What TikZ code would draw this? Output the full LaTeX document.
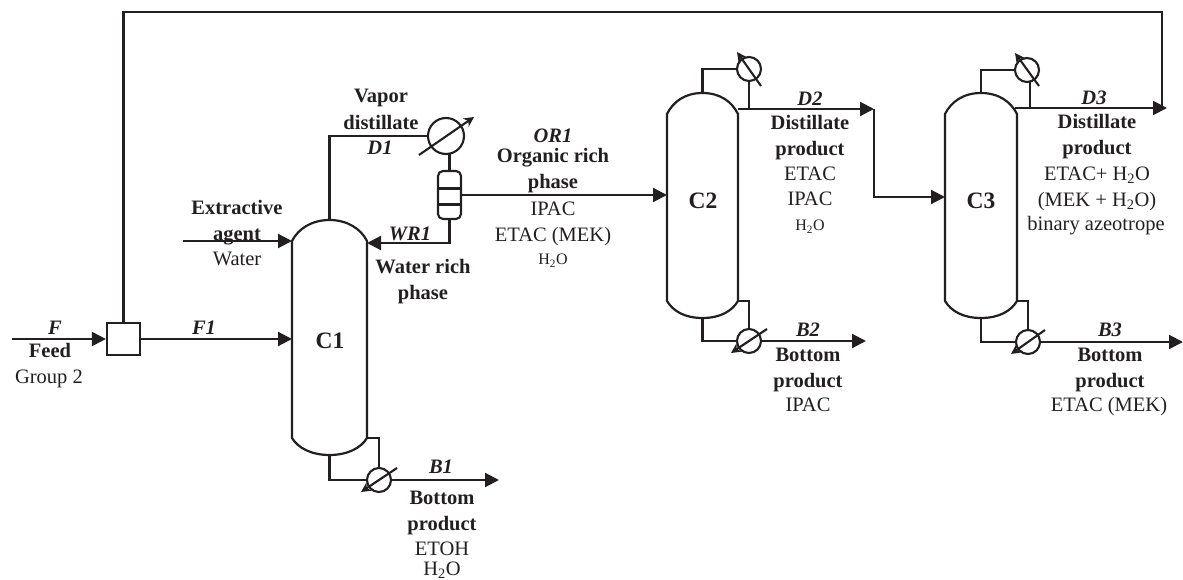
\documentclass[tikz,border=0pt]{standalone}
\usepackage{fontspec}
\setmainfont{Liberation Serif}
\usetikzlibrary{arrows.meta,calc}
\definecolor{ink}{HTML}{231F20}
\newcommand{\wat}{H\textsubscript{2}O}
\newcommand{\smwat}{{\fontsize{16}{16}\selectfont H\textsubscript{2}O}}
\tikzset{
  pipe/.style={draw=ink,line width=2.1pt,line join=miter},
  flow/.style={pipe,-{Triangle[length=14pt,width=14pt]}},
  tube/.style={draw=ink,line width=2.2pt,fill=white},
  hx/.style={circle,draw=ink,line width=2.1pt,fill=white,inner sep=0pt},
  hxarrow/.style={draw=ink,line width=2.1pt,-{Stealth[length=10pt,width=10pt]}},
  txt/.style={text=ink,font=\fontsize{20.5}{20.5}\selectfont,inner sep=0pt,anchor=base,yshift=-1.5pt},
  bold/.style={txt,font=\fontsize{20.5}{20.5}\selectfont\bfseries},
  ital/.style={txt,font=\fontsize{20.5}{20.5}\selectfont\bfseries\itshape},
  colname/.style={txt,font=\fontsize{23.5}{23.5}\selectfont\bfseries,anchor=center,yshift=0pt},
  mixbox/.style={draw=ink,line width=2.2pt,fill=white,minimum width=33pt,minimum height=32pt,inner sep=0pt}
}
\newcommand{\column}[5]{% name x1 x2 top bottom
  \coordinate (#1top) at ({(#2+#3)/2},#4);
  \coordinate (#1bot) at ({(#2+#3)/2},#5);
  \coordinate (#1ur) at (#3,#4+21);
  \coordinate (#1ul) at (#2,#4+21);
  \coordinate (#1lr) at (#3,#5-17);
  \coordinate (#1ll) at (#2,#5-17);
  \draw[tube] (#1ul) .. controls (#2+6,#4+9) and ({(#2+#3)/2-18},#4) .. (#1top)
    .. controls ({(#2+#3)/2+18},#4) and (#3-6,#4+9) .. (#1ur)
    -- (#1lr) .. controls (#3-6,#5-7) and ({(#2+#3)/2+18},#5) .. (#1bot)
    .. controls ({(#2+#3)/2-18},#5) and (#2+6,#5-7) .. (#1ll) -- cycle;
}
\begin{document}
\begin{tikzpicture}[x=1pt,y=-1pt]
\useasboundingbox (0,0) rectangle (1183,580);
% mixer
\node[mixbox] (mix) at (123.5,339) {};
\coordinate (fstart) at (12,339);
\draw[flow] (fstart) -- (mix.west);
% recycle
\coordinate (r2) at (1162,12);
\coordinate (d3tip) at (1167,108);
\draw[pipe] (mix.north) |- (r2) -- (1162,108);

% C1
\column{a}{292}{367}{220}{455}
\node[colname] (c1) at (330,339) {C1};
\draw[flow] (mix.east) -- (292,339);
\coordinate (ext) at (183,241);
\draw[flow] (ext) -- (292,241);
\node[hx,minimum size=36pt] (h1) at (446,136) {};
\draw[pipe] (atop) |- (h1.west);
\draw[hxarrow] (419,155) -- (474,117);
\node[draw=ink,line width=2.1pt,fill=white,rounded corners=5pt,minimum width=23pt,minimum height=48pt,inner sep=0pt] (dec) at (449.5,195) {};
\draw[pipe] (438,188.5) -- (461,188.5) (438,204.5) -- (461,204.5);
\draw[pipe] (449.5,154) -- (dec.north);
\draw[flow] (dec.south) |- (367,243);
% C2
\column{b}{667}{738}{93}{318}
\node[colname] (c2) at (703,199) {C2};
\draw[flow] (dec.east) -- (667,195);
\node[hx,minimum size=24pt] (h2) at (749,69) {};
\draw[pipe] (btop) |- (h2.west);
\draw[hxarrow] (761,86) -- (737,52);
\draw[pipe] (h2.south) -- (749,109);
\coordinate (d2end) at (874,109);
\draw[flow] (738,109) -- (d2end);
\draw[pipe] (d2end) -- (874,197);
% C3
\column{c}{945}{1017}{93}{318}
\node[colname] (c3) at (981,199) {C3};
\draw[flow] (873,197) -- (945,197);
\node[hx,minimum size=24pt] (h3) at (1027,70) {};
\draw[pipe] (ctop) |- (h3.west);
\draw[hxarrow] (1039,86) -- (1015,53);
\draw[pipe] (1030,81) -- (1030,108);
\draw[flow] (1015,108) -- (d3tip);
% reboilers
\node[hx,minimum size=24pt] (rb1) at (379,480) {};
\draw[pipe] (abot) |- (rb1.west);
\draw[pipe] (alr) -| (rb1.north);
\draw[hxarrow] (397,468) -- (361,492);
\draw[flow] (rb1.east) -- (499,480);
\node[hx,minimum size=24pt] (rb2) at (749,341) {};
\draw[pipe] (bbot) |- (rb2.west);
\draw[pipe] (blr) -| (rb2.north);
\draw[hxarrow] (767,329) -- (731,353);
\draw[flow] (rb2.east) -- (866,341);
\node[hx,minimum size=24pt] (rb3) at (1028,342) {};
\draw[pipe] (cbot) |- (rb3.west);
\draw[pipe] (clr) -| (rb3.north);
\draw[hxarrow] (1045,330) -- (1011,354);
\draw[flow] (rb3.east) -- (1183,342);

% labels
\node[ital] (lF) at (55,333) {F};
\node[bold] (lfeed) at (50,356) {Feed};
\node[txt] (lg2) at (49,382) {Group 2};
\node[ital] (lF1) at (204,333) {F1};
\node[bold] (lex1) at (237,213) {Extractive};
\node[bold] (lex2) at (237,239) {agent};
\node[txt] (lw) at (237,264) {Water};
\node[bold] (lv1) at (381,101) {Vapor};
\node[bold] (lv2) at (381,128) {distillate};
\node[ital] (lD1) at (380,153) {D1};
\node[ital] (lWR) at (410,239) {WR1};
\node[bold] (lwr1) at (423,272) {Water rich};
\node[bold] (lwr2) at (423,298) {phase};
\node[ital] (lOR) at (553,141) {OR1};
\node[bold] (lo1) at (553,161) {Organic rich};
\node[bold] (lo2) at (553,187) {phase};
\node[txt] (lo3) at (553,214) {IPAC};
\node[txt] (lo4) at (553,240) {ETAC (MEK)};
\node[txt] (lo5) at (553,263) {\smwat};
\node[ital] (lD2) at (810,104) {D2};
\node[bold] (ld21) at (810,128) {Distillate};
\node[bold] (ld22) at (810,154) {product};
\node[txt] (ld23) at (810,179) {ETAC};
\node[txt] (ld24) at (810,204) {IPAC};
\node[txt] (ld25) at (810,229) {\smwat};
\node[ital] (lB2) at (808,335) {B2};
\node[bold] (lb21) at (808,360) {Bottom};
\node[bold] (lb22) at (808,386) {product};
\node[txt] (lb23) at (808,410) {IPAC};
\node[ital] (lD3) at (1094,103) {D3};
\node[bold] (ld31) at (1097,127) {Distillate};
\node[bold] (ld32) at (1097,153) {product};
\node[txt] (ld33) at (1097,179) {ETAC+ \wat};
\node[txt] (ld34) at (1097,205) {(MEK + \wat)};
\node[txt] (ld35) at (1096,229) {binary azeotrope};
\node[ital] (lB3) at (1110,335) {B3};
\node[bold] (lb31) at (1110,360) {Bottom};
\node[bold] (lb32) at (1110,386) {product};
\node[txt] (lb33) at (1109,410) {ETAC (MEK)};
\node[ital] (lB1) at (441,472) {B1};
\node[bold] (lb11) at (442,503) {Bottom};
\node[bold] (lb12) at (442,529) {product};
\node[txt] (lb13) at (442,554) {ETOH};
\node[txt] (lb14) at (442,574) {\wat};
\end{tikzpicture}
\end{document}
